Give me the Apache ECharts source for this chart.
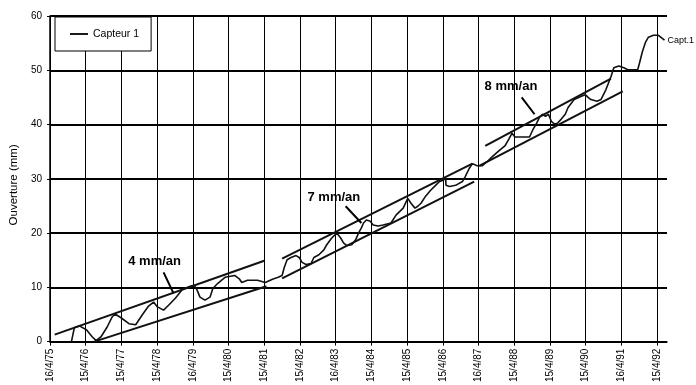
<!DOCTYPE html>
<html><head><meta charset="utf-8">
<script src="https://cdn.jsdelivr.net/npm/echarts@6/dist/echarts.min.js"></script>
<style>html,body{margin:0;padding:0;background:#fff}#c{width:696px;height:385px}</style>
</head><body><div id="c"></div>
<script>
// x values: years elapsed since 16/4/75
const tickLabels = ['16/4/75','15/4/76','15/4/77','15/4/78','16/4/79','15/4/80','15/4/81','15/4/82','16/4/83','15/4/84','15/4/85','15/4/86','16/4/87','15/4/88','15/4/89','15/4/90','16/4/91','15/4/92'];
const seriesName = 'Capteur 1';
const endName = 'Capt.1';
const capteurX = [0.60,0.68,0.82,1.02,1.18,1.29,1.43,1.60,1.74,1.82,1.99,2.21,2.40,2.60,2.76,2.90,3.01,3.18,3.32,3.51,3.71,3.93,4.04,4.12,4.20,4.34,4.48,4.56,4.70,4.90,5.17,5.31,5.37,5.53,5.81,6.03,6.23,6.39,6.50,6.56,6.64,6.75,6.89,6.98,7.06,7.17,7.31,7.39,7.53,7.67,7.75,7.89,8.03,8.14,8.22,8.31,8.45,8.56,8.64,8.72,8.78,8.86,8.97,9.05,9.19,9.33,9.55,9.69,9.89,10.02,10.11,10.22,10.30,10.39,10.52,10.66,10.77,10.91,10.99,11.08,11.09,11.19,11.36,11.55,11.63,11.74,11.83,11.96,12.10,12.24,12.38,12.57,12.74,12.85,12.94,13.02,13.13,13.30,13.43,13.52,13.63,13.71,13.79,13.88,13.96,14.04,14.13,14.21,14.32,14.43,14.51,14.68,14.88,14.99,15.07,15.15,15.32,15.43,15.57,15.71,15.79,15.93,16.07,16.18,16.46,16.51,16.59,16.68,16.76,16.90,17.04,17.21];
const capteurY = [0.0,2.55,2.9,2.2,0.9,0.2,0.9,2.7,4.55,5.1,4.4,3.3,3.1,5.1,6.55,7.3,6.4,5.8,6.7,8.0,9.65,10.2,10.4,9.5,8.2,7.65,8.2,9.8,10.75,11.85,12.2,11.5,10.9,11.3,11.3,10.9,11.5,11.85,12.2,13.65,15.1,15.5,15.85,15.5,14.6,14.2,14.4,15.5,16.0,16.9,17.85,19.1,20.0,19.1,18.2,17.7,17.85,18.75,20.0,20.95,21.85,22.4,22.2,21.5,21.3,21.5,21.85,23.3,24.6,26.4,25.5,24.6,24.95,25.5,26.8,27.9,28.6,29.5,29.7,30.05,28.8,28.6,28.8,29.5,30.4,31.9,32.8,32.4,32.4,33.15,34.05,35.15,36.05,37.3,38.4,37.7,37.7,37.7,37.7,39.0,40.25,41.35,41.9,41.5,41.9,40.6,40.1,40.25,41.0,41.9,43.15,44.6,45.2,45.5,45.0,44.6,44.3,44.6,46.45,48.8,50.45,50.8,50.45,50.1,50.1,51.35,53.4,55.2,56.1,56.45,56.45,55.55];
// trend lines [[x1,y1],[x2,y2]]
const trend4Upper = [[0.13,1.3],[6.0,14.9]];
const trend4Lower = [[1.24,0.0],[6.06,10.2]];
const trend7Upper = [[6.50,15.3],[11.83,32.8]];
const trend7Lower = [[6.50,11.65],[11.88,29.5]];
const trend8Upper = [[12.19,36.05],[15.71,48.45]];
const trend8Lower = [[12.02,32.4],[16.04,46.1]];
// annotations
const annotTexts = ['4 mm/an','7 mm/an','8 mm/an'];
const annotPos = [[2.93,14.75],[7.95,26.6],[12.91,47.0]];
const annotArrows = [[[3.18,12.75],[3.46,8.9]],[[8.28,24.95],[8.72,21.85]],[[13.21,45.0],[13.57,41.9]]];

const FONT = 'Liberation Sans, Arial, sans-serif';
const chart = echarts.init(document.getElementById('c'), null, {renderer:'canvas'});
const trendSeries = [trend4Upper,trend4Lower,trend7Upper,trend7Lower,trend8Upper,trend8Lower].map(d => ({
  type:'line', data:d, symbol:'none', silent:true, z:3,
  lineStyle:{color:'#111', width:2}
}));
chart.setOption({
  animation:false,
  backgroundColor:'#fff',
  grid:{left:43, right:29, top:16, bottom:40},
  legend:{
    data:[{name:seriesName, icon:'rect'}], left:55, top:17, padding:[11,12,11,15],
    itemWidth:18, itemHeight:1.8, itemGap:5,
    backgroundColor:'#fff', borderColor:'#000', borderWidth:1,
    itemStyle:{color:'#000'},
    textStyle:{fontFamily:FONT, fontSize:10.5, color:'#000', lineHeight:12}
  },
  xAxis:{
    type:'value', min:0, max:17.28, interval:1,
    axisLine:{lineStyle:{color:'#000', width:1.5}},
    axisTick:{show:true, length:4, lineStyle:{color:'#000'}},
    axisLabel:{rotate:90, fontSize:10, fontFamily:FONT, color:'#000', margin:7, showMaxLabel:false,
      formatter:v => (Math.abs(v-Math.round(v))<1e-6 ? (tickLabels[Math.round(v)]||'') : '')},
    splitLine:{show:true, showMaxLine:false, lineStyle:{color:'#000', width:1}}
  },
  yAxis:{
    type:'value', min:0, max:60, interval:10,
    name:'Ouverture (mm)', nameLocation:'middle', nameGap:29,
    nameTextStyle:{fontFamily:FONT, fontSize:11.5, color:'#000', padding:[0,12,0,0]},
    axisLine:{show:true, lineStyle:{color:'#000', width:1.5}},
    axisTick:{show:true, length:3, lineStyle:{color:'#000'}},
    axisLabel:{fontSize:10, fontFamily:FONT, color:'#000', margin:8},
    splitLine:{show:true, lineStyle:{color:'#000', width:2}}
  },
  series:[
    {
      name:seriesName, type:'line', symbol:'none', z:4,
      data:capteurX.map((x,i)=>[x,capteurY[i]]),
      lineStyle:{color:'#111', width:1.6},
      itemStyle:{color:'#111'},
      endLabel:{show:true, formatter:endName, fontFamily:FONT, fontSize:9, color:'#000', distance:3}
    },
    ...trendSeries,
    {
      type:'scatter', symbolSize:0, silent:true, z:6,
      itemStyle:{color:'#000', opacity:1},
      data:annotPos.map((p,i)=>({value:p, name:annotTexts[i]})),
      label:{show:true, position:[0,0], align:'center', verticalAlign:'middle',
        formatter:p=>p.name, fontFamily:FONT, fontSize:13, fontWeight:'bold',
        color:'#000', textBorderWidth:0},
      markLine:{
        silent:true, symbol:['none','arrow'], symbolSize:[0,9],
        lineStyle:{color:'#000', width:2, type:'solid'},
        label:{show:false},
        data:annotArrows.map(a=>[{coord:a[0]},{coord:a[1]}])
      }
    }
  ]
});
</script>
</body></html>
